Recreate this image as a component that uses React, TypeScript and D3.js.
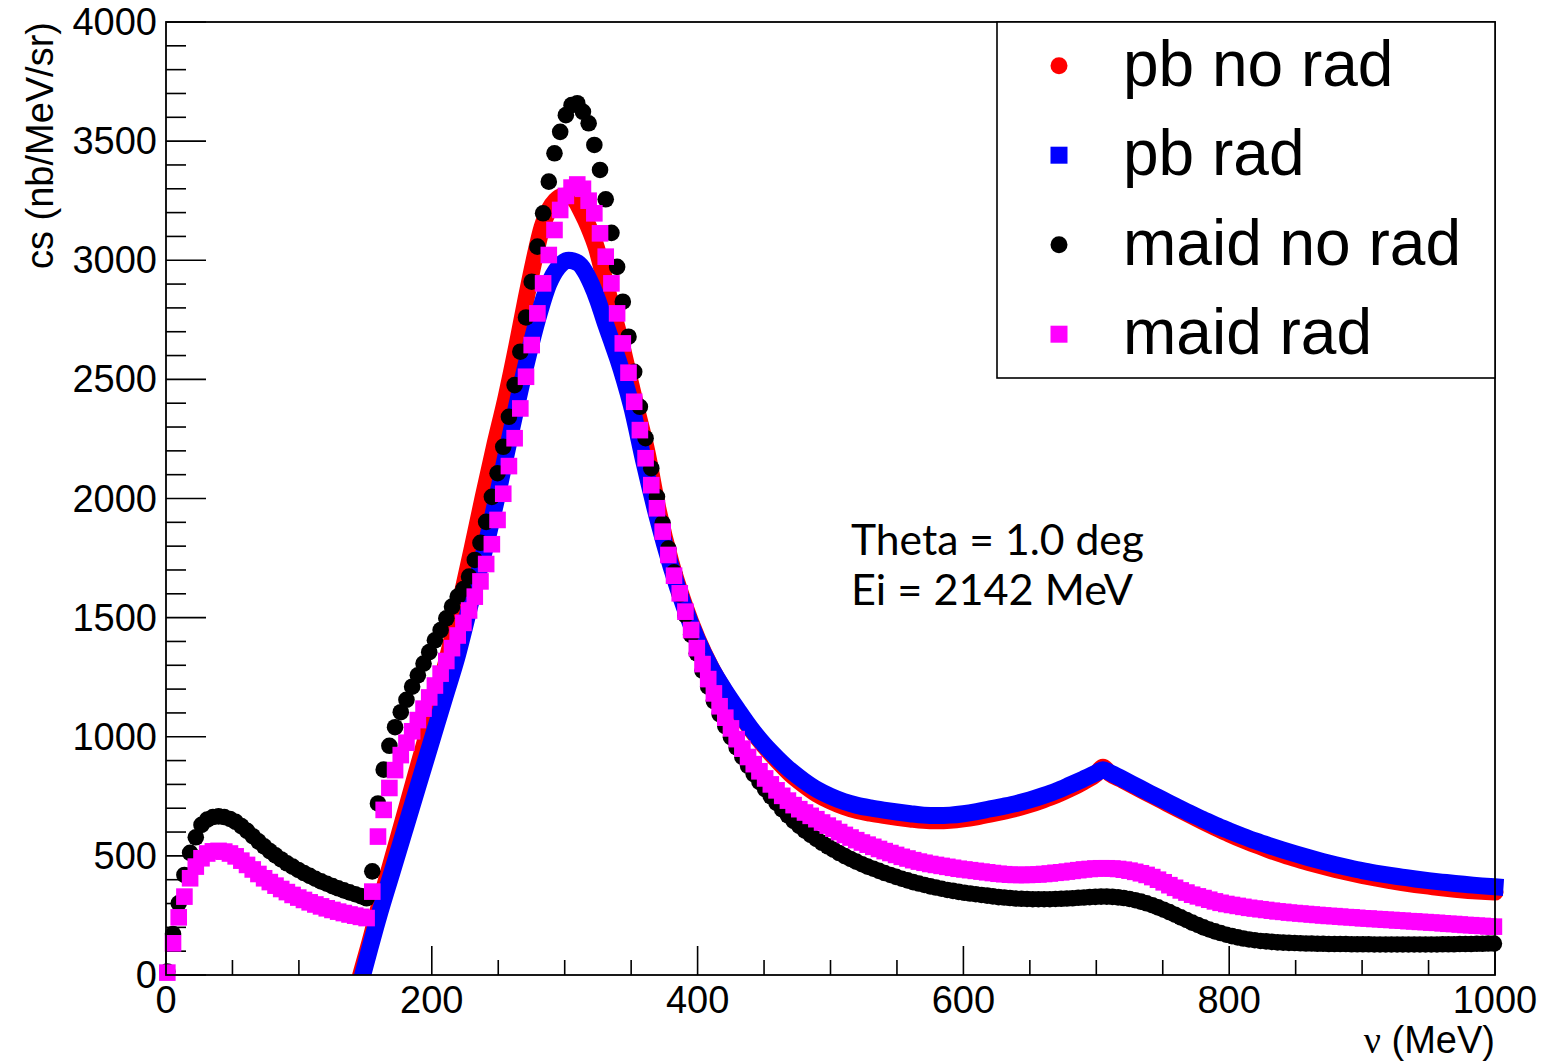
import React from 'react';
import * as d3 from 'd3';

// ---- maid series: points on a uniform nu grid (MeV) ----
const MAID_NU_START = 1;
const MAID_NU_STEP = 4.284;

const maidNoRad = [
  15, 172, 301, 420, 513, 578, 630, 652, 663, 666,
  663, 655, 643, 625, 605, 583, 561, 540, 520, 502,
  485, 469, 455, 441, 428, 416, 404, 393, 383, 373,
  364, 355, 347, 339, 331, 322, 435, 720, 862, 962,
  1040, 1103, 1155, 1210, 1258, 1307, 1355, 1405, 1448, 1497,
  1546, 1588, 1620, 1672, 1742, 1814, 1902, 2007, 2106, 2217,
  2343, 2476, 2616, 2760, 2910, 3057, 3197, 3330, 3449, 3539,
  3609, 3651, 3659, 3623, 3575, 3484, 3379, 3256, 3115, 2972,
  2826, 2679, 2532, 2385, 2253, 2127, 2007, 1896, 1790, 1690,
  1598, 1510, 1428, 1350, 1278, 1210, 1150, 1095, 1045, 998,
  955, 915, 878, 843, 811, 780, 750, 722, 695, 670,
  647, 626, 606, 588, 571, 555, 540, 526, 512, 499,
  487, 476, 465, 455, 446, 437, 428, 420, 412, 404,
  397, 390, 384, 378, 372, 367, 362, 357, 353, 349,
  345, 342, 339, 336, 333, 330, 327, 325, 323, 321,
  320, 319, 318, 318, 318, 318, 319, 320, 321, 322,
  324, 325, 327, 328, 329, 329, 328, 326, 323, 319,
  314, 308, 301, 293, 284, 274, 264, 253, 242, 231,
  220, 210, 200, 191, 183, 176, 169, 163, 158, 153,
  149, 146, 143, 141, 139, 137, 136, 135, 134, 133,
  132, 132, 131, 131, 130, 130, 130, 130, 129, 129,
  129, 129, 128, 128, 128, 128, 128, 128, 128, 128,
  128, 128, 128, 128, 129, 129, 129, 130, 130, 130,
  131, 131, 132, 132,
];

const maidRad = [
  10, 133, 242, 329, 406, 455, 490, 510, 519, 521,
  518, 510, 498, 480, 462, 443, 424, 406, 390, 375,
  361, 348, 336, 325, 315, 305, 296, 288, 280, 273,
  266, 260, 254, 249, 244, 239, 350, 581, 693, 785,
  860, 923, 975, 1023, 1070, 1118, 1165, 1215, 1265, 1318,
  1372, 1425, 1478, 1530, 1588, 1652, 1725, 1808, 1910, 2020,
  2136, 2253, 2378, 2511, 2644, 2777, 2903, 3022, 3127, 3211,
  3270, 3305, 3318, 3300, 3250, 3197, 3113, 3015, 2903, 2777,
  2651, 2528, 2406, 2287, 2169, 2056, 1959, 1861, 1763, 1676,
  1602, 1525, 1448, 1372, 1305, 1242, 1182, 1128, 1080, 1035,
  990, 950, 915, 885, 855, 825, 800, 775, 752, 732,
  713, 696, 682, 668, 654, 640, 627, 614, 600, 588,
  577, 566, 556, 547, 538, 529, 520, 512, 504, 496,
  489, 482, 476, 471, 466, 462, 458, 454, 450, 446,
  443, 440, 437, 434, 431, 428, 425, 423, 421, 420,
  420, 420, 421, 422, 424, 426, 429, 431, 434, 437,
  440, 443, 445, 447, 448, 448, 447, 445, 442, 438,
  433, 427, 420, 411, 400, 389, 377, 366, 355, 346,
  337, 330, 323, 316, 309, 303, 298, 294, 290, 286,
  282, 279, 276, 273, 270, 267, 265, 262, 260, 258,
  256, 254, 252, 250, 248, 247, 245, 243, 242, 240,
  238, 237, 235, 234, 232, 231, 229, 228, 226, 225,
  223, 222, 220, 219, 217, 215, 214, 212, 210, 209,
  207, 206, 204, 203,
];

// ---- pb series (dense, drawn as continuous bands) ----
const pbNoRadNu = [
  146.5, 155, 160, 170, 180, 190, 200, 210, 222.5, 230, 238.7, 247, 256, 264, 271, 277, 283, 288, 293, 298,
  303, 308, 313, 318, 324, 330, 336.6, 343, 349, 355, 361.7, 370, 380, 390, 400, 410, 420, 430, 440, 450,
  460, 470, 480, 490, 500, 510, 520, 530, 540, 550, 560, 570, 580, 590, 600, 610, 620, 630, 640, 650,
  660, 670, 680, 690, 700, 705, 710, 720, 730, 740, 750, 760, 770, 780, 790, 800, 810, 820, 830, 840,
  850, 860, 870, 880, 890, 900, 910, 920, 930, 940, 950, 960, 970, 980, 990, 1000,
];
const pbNoRad = [
  0, 170, 280, 480, 680, 880, 1080, 1290, 1590, 1780, 2007, 2215, 2427, 2640, 2840, 3000, 3140, 3210, 3250, 3268,
  3270, 3250, 3200, 3140, 3050, 2920, 2777, 2640, 2497, 2355, 2200, 1960, 1730, 1555, 1410, 1292, 1194, 1108, 1032, 962,
  900, 843, 798, 759, 730, 707, 690, 679, 670, 662, 655, 649, 647, 649, 655, 664, 675, 687, 700, 716,
  735, 756, 781, 810, 845, 872, 847, 818, 788, 759, 730, 701, 673, 645, 618, 592, 568, 546, 525, 506,
  488, 472, 457, 443, 430, 418, 407, 397, 388, 380, 373, 366, 360, 355, 351, 348,
];

const pbRadNu = [
  148, 160, 170, 180, 190, 200, 210, 219, 230, 240, 250, 260, 270, 280, 288, 295, 303, 310, 315, 320,
  325, 330, 335, 340, 345, 350, 360, 370, 380, 390, 400, 410, 420, 430, 440, 450, 460, 470, 480, 490,
  500, 510, 520, 530, 540, 550, 560, 570, 580, 590, 600, 610, 620, 630, 640, 650, 660, 670, 680, 690,
  700, 705, 710, 720, 730, 740, 750, 760, 770, 780, 790, 800, 810, 820, 830, 840, 850, 860, 870, 880,
  890, 900, 910, 920, 930, 940, 950, 960, 970, 980, 990, 1000,
];
const pbRad = [
  0, 245, 430, 615, 800, 985, 1170, 1336, 1580, 1790, 2030, 2290, 2540, 2760, 2900, 2970, 3000, 2988, 2955, 2900,
  2830, 2745, 2665, 2585, 2495, 2394, 2144, 1914, 1714, 1544, 1404, 1290, 1198, 1115, 1036, 968, 910, 858, 815, 778,
  750, 728, 712, 701, 692, 684, 677, 671, 669, 671, 677, 686, 697, 708, 720, 735, 753, 773, 797, 822,
  848, 862, 850, 822, 793, 764, 736, 708, 680, 654, 628, 605, 583, 562, 543, 525, 508, 492, 477, 463,
  450, 438, 428, 419, 411, 403, 396, 390, 384, 379, 374, 370,
];

// ---- axes / labels ----
const xTickLabels = [0, 200, 400, 600, 800, 1000];
const yTickLabels = [0, 500, 1000, 1500, 2000, 2500, 3000, 3500, 4000];
const legendLabels = ['pb no rad', 'pb rad', 'maid no rad', 'maid rad'];
const legendColors = ['#ff0000', '#0000ff', '#000000', '#ff00ff'];
const legendShapes = ['circle', 'square', 'circle', 'square'];
const annotation = ['Theta = 1.0 deg', 'Ei = 2142 MeV'];

const SANS = '"Liberation Sans", Arial, Helvetica, sans-serif';

export default function App() {
  const W = 1565;
  const H = 1061;
  const left = 166, right = 1495, top = 22, bottom = 975;
  const x = d3.scaleLinear().domain([0, 1000]).range([left, right]);
  const y = d3.scaleLinear().domain([0, 4000]).range([bottom, top]);
  const line = d3.line<[number, number]>().x(d => x(d[0])).y(d => y(d[1])).curve(d3.curveMonotoneX);

  const redPts = pbNoRadNu.map((n, i) => [n, pbNoRad[i]] as [number, number]);
  const bluePts = pbRadNu.map((n, i) => [n, pbRad[i]] as [number, number]);
  const maidNu = (i: number) => MAID_NU_START + i * MAID_NU_STEP;

  const yMinor = d3.range(0, 4001, 100);
  const xMinor = d3.range(0, 1001, 50);
  const MS = 16.6; // marker size

  return (
    <svg width={W} height={H} style={{ position: 'absolute', left: 0, top: 0, background: '#fff' }}>
      <defs>
        <clipPath id="bottomClip">
          <rect x={0} y={0} width={W} height={bottom} />
        </clipPath>
      </defs>
      <rect x={0} y={0} width={W} height={H} fill="#fff" />

      {/* ticks */}
      {yMinor.map(v => (
        <line key={'yt' + v} x1={left} x2={left + (v % 500 === 0 ? 40 : 20)} y1={y(v)} y2={y(v)} stroke="#000" strokeWidth={1.6} />
      ))}
      {xMinor.map(v => (
        <line key={'xt' + v} x1={x(v)} x2={x(v)} y1={bottom} y2={bottom - (v % 200 === 0 ? 29 : 15)} stroke="#000" strokeWidth={1.6} />
      ))}

      {/* pb bands */}
      <g clipPath="url(#bottomClip)">
        <path d={line(redPts) || ''} fill="none" stroke="#ff0000" strokeWidth={17} strokeLinejoin="round" strokeLinecap="round" />
        <path d={line(bluePts) || ''} fill="none" stroke="#0000ff" strokeWidth={17} strokeLinejoin="round" strokeLinecap="square" />
      </g>

      {/* maid no rad: circles */}
      {maidNoRad.map((v, i) => (
        <circle key={'b' + i} cx={x(maidNu(i))} cy={y(v)} r={MS / 2} fill="#000" />
      ))}
      {/* maid rad: squares */}
      {maidRad.map((v, i) => (
        <rect key={'m' + i} x={x(maidNu(i)) - MS / 2} y={y(v) - MS / 2} width={MS} height={MS} fill="#ff00ff" />
      ))}

      {/* frame */}
      <rect x={left} y={top} width={right - left} height={bottom - top} fill="none" stroke="#000" strokeWidth={1.8} />

      {/* tick labels */}
      {yTickLabels.map(v => (
        <text key={'yl' + v} x={157} y={y(v) + 13} textAnchor="end" fontFamily={SANS} fontSize={38} fill="#000">{v}</text>
      ))}
      {xTickLabels.map(v => (
        <text key={'xl' + v} x={x(v)} y={1013} textAnchor="middle" fontFamily={SANS} fontSize={38} fill="#000">{v}</text>
      ))}

      {/* axis titles */}
      <text x={right} y={1053} textAnchor="end" fontFamily={SANS} fontSize={38} fill="#000">
        <tspan fontFamily='"Liberation Serif", "DejaVu Serif", serif'>ν</tspan>
        <tspan> (MeV)</tspan>
      </text>
      <text transform={`translate(53, ${top}) rotate(-90)`} textAnchor="end" fontFamily={SANS} fontSize={38} fill="#000">
        cs (nb/MeV/sr)
      </text>

      {/* annotation */}
      <text x={851} y={555} fontFamily="Lato, 'Open Sans', sans-serif" fontSize={43} fill="#000" textLength={293} lengthAdjust="spacingAndGlyphs">{annotation[0]}</text>
      <text x={851} y={605} fontFamily="Lato, 'Open Sans', sans-serif" fontSize={43} fill="#000" textLength={282} lengthAdjust="spacingAndGlyphs">{annotation[1]}</text>

      {/* legend */}
      <rect x={997} y={top} width={right - 997} height={378 - top} fill="#fff" stroke="#000" strokeWidth={1.6} />
      {legendLabels.map((lab, i) => {
        const cy = 65.7 + i * 89.5;
        const cx = 1059;
        return (
          <g key={'lg' + i}>
            {legendShapes[i] === 'circle' ? (
              <circle cx={cx} cy={cy} r={8.5} fill={legendColors[i]} />
            ) : (
              <rect x={cx - 8.5} y={cy - 8.5} width={17} height={17} fill={legendColors[i]} />
            )}
            <text x={1123} y={cy + 20} fontFamily={SANS} fontSize={64} fill="#000">{lab}</text>
          </g>
        );
      })}
    </svg>
  );
}
